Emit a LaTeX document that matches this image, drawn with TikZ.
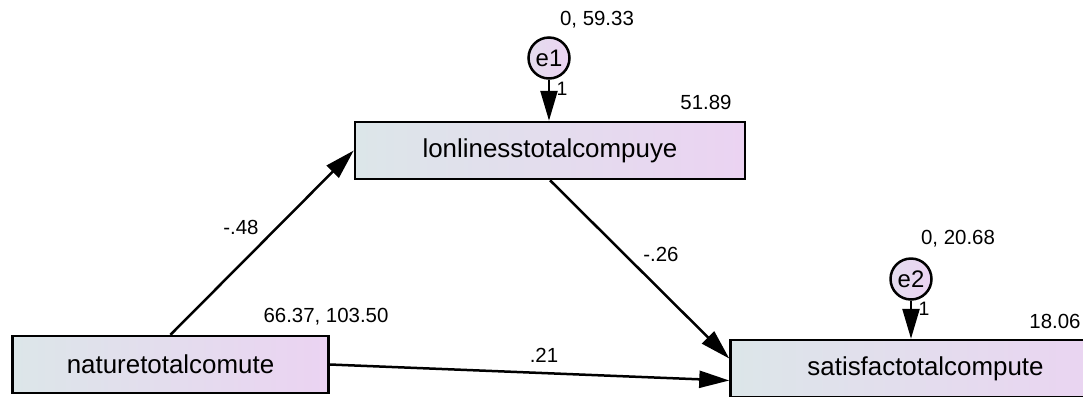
\documentclass[tikz,border=0pt]{standalone}
\usepackage{fontspec}
\setmainfont{Liberation Sans}
\usetikzlibrary{arrows.meta}
\definecolor{gl}{HTML}{DCE6E9}
\definecolor{gr}{HTML}{EBD3F2}
\begin{document}
\begin{tikzpicture}[x=1bp,y=-1bp,
 box/.style={draw=black, line width=2.5bp, left color=gl, right color=gr, minimum width=390bp, minimum height=57bp, inner sep=0pt, font=\fontsize{26}{30}\selectfont},
 err/.style={circle, draw=black, line width=2.5bp, left color=gl!50!gr, right color=gr, minimum size=41bp, inner sep=0pt, font=\fontsize{24}{28}\selectfont},
 lab/.style={font=\fontsize{20.5}{24}\selectfont, inner sep=0pt},
 one/.style={font=\fontsize{19.5}{22}\selectfont, inner sep=0pt},
 arr/.style={line width=2.5bp, -{Triangle[length=30bp,width=17bp]}}]
\useasboundingbox (0,0) rectangle (1083,396);
\clip (0,0) rectangle (1083,396);
\node[box] (lon) at (550,150.5) {lonlinesstotalcompuye};
\node[box, minimum width=316bp] (nat) at (170.5,364.5) {naturetotalcomute};
\node[box] (sat) at (925.5,368.5) {satisfactotalcompute};
\node[err] (e1) at (549,58) {e1};
\node[err] (e2) at (911,279) {e2};
\draw[arr] (e1) -- (lon.north -| e1);
\draw[arr] (e2) -- (sat.north -| e2);
\draw[arr] (nat.north) -- (lon.west);
\draw[arr] (lon.south) -- ([yshift=10bp]sat.west);
\draw[arr] (nat.east) -- ([yshift=-12bp]sat.west);
\node[lab] (l1) at (597,20) {0, 59.33};
\node[lab] (l2) at (706,102) {51.89};
\node[lab] (l3) at (241,227) {-.48};
\node[lab] (l4) at (661,254) {-.26};
\node[lab] (l5) at (544,355) {.21};
\node[lab] (l6) at (326,317) {66.37, 103.50};
\node[lab] (l7) at (958,239) {0, 20.68};
\node[lab] (l8) at (1055,321) {18.06};
\node[one] (o1) at (562,89) {1};
\node[one] (o2) at (924,309) {1};
\end{tikzpicture}
\end{document}
